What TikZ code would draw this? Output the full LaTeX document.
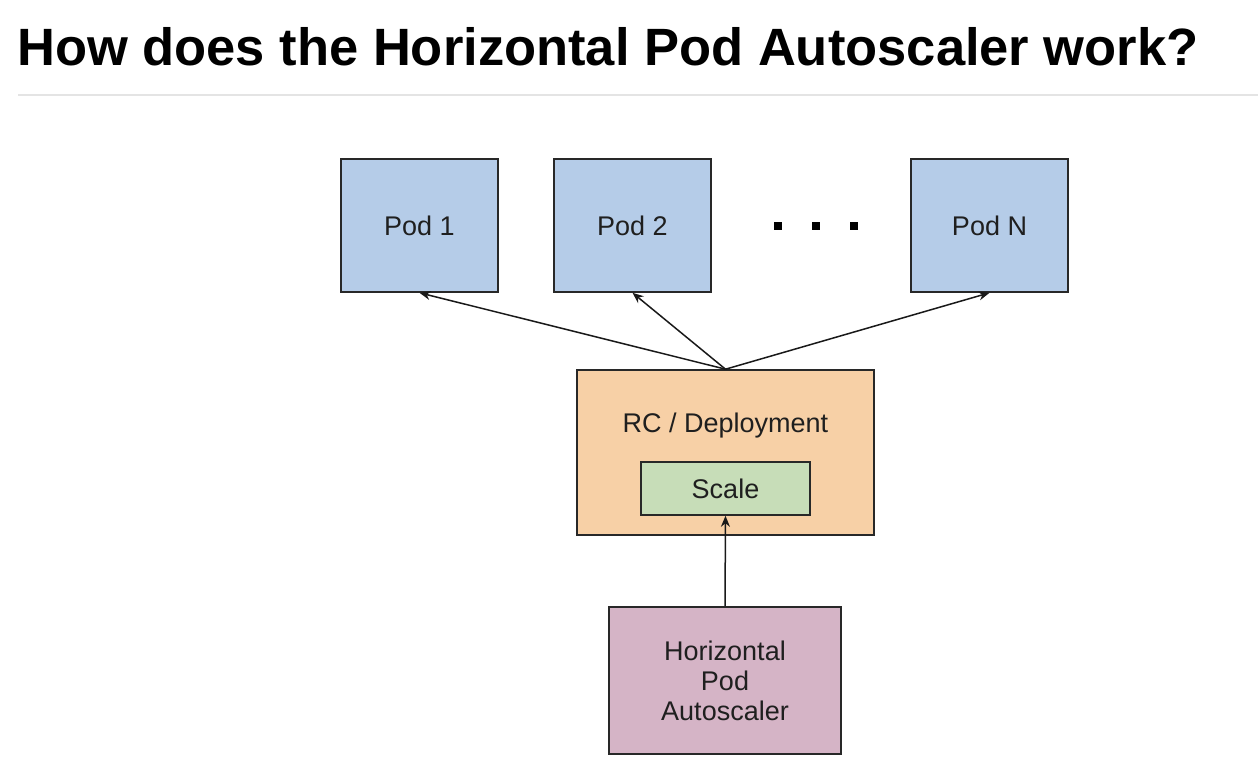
\documentclass[tikz,border=0pt]{standalone}
\usepackage{fontspec}
\setmainfont{Liberation Sans}
\usetikzlibrary{arrows.meta}
\definecolor{podblue}{RGB}{181,204,232}
\definecolor{rcorange}{RGB}{247,208,166}
\definecolor{scalegreen}{RGB}{199,221,184}
\definecolor{hpapink}{RGB}{213,180,198}
\definecolor{rulegray}{RGB}{228,228,228}
\definecolor{edgegray}{RGB}{40,40,40}
\tikzset{
  boxtext/.style={font=\fontsize{27}{30}\selectfont, text=black!88},
  box/.style={draw=edgegray, line width=1.6pt, inner sep=0pt, align=center, boxtext},
  podbox/.style={box, fill=podblue, minimum width=157pt, minimum height=133pt},
  dotsq/.style={fill=black, minimum size=8pt, inner sep=0pt},
  arr/.style={-{Stealth[length=11pt,width=9pt]}, line width=1.5pt, draw=black!90}
}
\begin{document}
\begin{tikzpicture}[x=1pt,y=-1pt]
\useasboundingbox (0,0) rectangle (1258,766);
% title and rule
\node[anchor=base west, inner sep=0pt, font=\fontsize{52.5}{60}\selectfont\bfseries] (title) at (17,65) {How does the Horizontal Pod Autoscaler work?};
\draw[rulegray, line width=2.5pt] (18,95) -- (1258,95);
% pods
\node[podbox] (pod1) at (419.5,225.5) {Pod 1};
\node[podbox] (pod2) at (632.5,225.5) {Pod 2};
\node[podbox] (podn) at (989.5,225.5) {Pod N};
\foreach \i/\x in {1/778,2/816,3/854}
  \node[dotsq] (dot\i) at (\x,226) {};
% controller
\node[box, fill=rcorange, minimum width=297pt, minimum height=165pt] (rc) at (725.5,452.5) {};
\node[boxtext] (rclabel) at (725.5,426) {RC / Deployment};
\node[box, fill=scalegreen, minimum width=169pt, minimum height=53pt] (scale) at (725.5,488.5) {Scale};
% autoscaler
\node[box, fill=hpapink, minimum width=232pt, minimum height=147pt] (hpa) at (725,680.5) {Horizontal\\Pod\\Autoscaler};
% arrows
\draw[arr] (rc.north) -- (pod1.south);
\draw[arr] (rc.north) -- (pod2.south);
\draw[arr] (rc.north) -- (podn.south);
\draw[arr] (hpa.north) -- (scale.south);
\end{tikzpicture}
\end{document}
